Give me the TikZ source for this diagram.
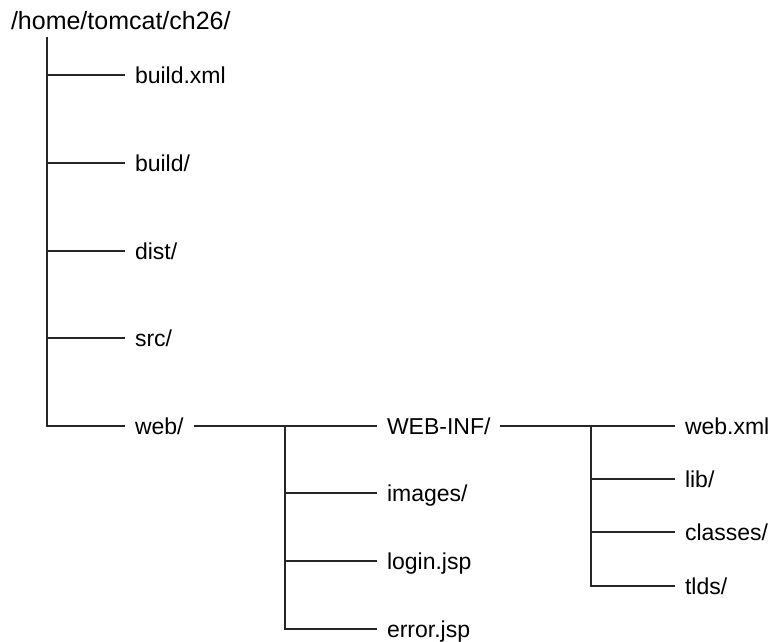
\documentclass[tikz,border=0pt]{standalone}
\usepackage{fontspec}
\setmainfont{Liberation Sans}
\tikzset{
	entry/.style={anchor=west, inner xsep=10pt, inner ysep=0pt, outer sep=0pt, text height=16.5pt, text depth=0pt, font=\fontsize{23}{27}\selectfont},
	branch/.style={line width=1.2pt, draw=black!85},
}
\begin{document}
\begin{tikzpicture}[x=1pt, y=-1pt]
	\useasboundingbox (0,0) rectangle (776,641);
	% root and first level
	\node[entry, anchor=base west, inner xsep=0pt, font=\fontsize{25}{30}\selectfont] (root) at (11,29) {/home/tomcat/ch26/};
	\coordinate (trunk) at (47,37);
	\node[entry] (buildxml) at (125,75) {build.xml};
	\node[entry] (build) at (125,163) {build/};
	\node[entry] (dist) at (125,251) {dist/};
	\node[entry] (src) at (125,338) {src/};
	\node[entry] (web) at (125,426) {web/};
	% web/
	\coordinate (webfork) at (285,426);
	\node[entry] (webinf) at (377,426) {WEB-INF/};
	\node[entry] (images) at (377,493) {images/};
	\node[entry] (login) at (377,561) {login.jsp};
	\node[entry] (error) at (377,629) {error.jsp};
	% WEB-INF/
	\coordinate (inffork) at (591,426);
	\node[entry] (webxml) at (675,426) {web.xml};
	\node[entry] (lib) at (675,479) {lib/};
	\node[entry] (classes) at (675,532) {classes/};
	\node[entry] (tlds) at (675,586) {tlds/};
	\draw[branch] (trunk) |- (web);
	\foreach \n in {buildxml, build, dist, src}
		\draw[branch] (trunk |- \n) -- (\n);
	\draw[branch] (web) -- (webinf);
	\draw[branch] (webfork) |- (error);
	\foreach \n in {images, login}
		\draw[branch] (webfork |- \n) -- (\n);
	\draw[branch] (webinf) -- (webxml);
	\draw[branch] (inffork) |- (tlds);
	\foreach \n in {lib, classes}
		\draw[branch] (inffork |- \n) -- (\n);
\end{tikzpicture}
\end{document}
